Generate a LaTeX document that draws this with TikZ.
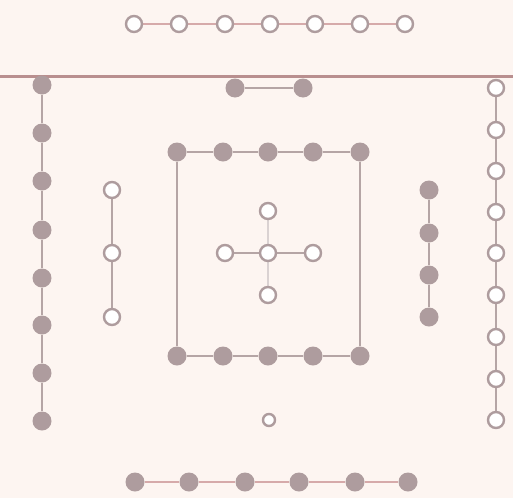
\documentclass[tikz,border=0pt]{standalone}
\usetikzlibrary{backgrounds}
\definecolor{bgc}{HTML}{FDF5F1}
\definecolor{edgec}{HTML}{B5A5A5}
\definecolor{pinkedge}{HTML}{D6AAAA}
\definecolor{nodec}{HTML}{AE9C9E}
\definecolor{rulec}{HTML}{B98F8F}
\tikzset{
  fillnode/.style={circle,fill=nodec,draw=none,minimum size=19pt,inner sep=0pt},
  opennode/.style={circle,fill=white,draw=nodec,line width=2.4pt,minimum size=16pt,inner sep=0pt},
  smallopen/.style={circle,fill=white,draw=nodec,line width=2.4pt,minimum size=12pt,inner sep=0pt},
  edge/.style={draw=edgec,line width=2.8pt},
  pedge/.style={draw=pinkedge,line width=2.4pt},
  faint/.style={draw=edgec!50,line width=1.2pt},
}
\begin{document}
\begin{tikzpicture}[x=1pt,y=-1pt]
\begin{scope}[on background layer]
\fill[bgc] (0,0) rectangle (513,498);
\end{scope}
\useasboundingbox (0,0) rectangle (513,498);
% separator line
\coordinate (rl) at (0,76);
\coordinate (rr) at (513,76);
\draw[rulec,line width=3pt] (rl) -- (rr);
% top open row
\foreach \x [count=\i] in {134,179,225,270,315,360,405}{
  \node[opennode] (t\i) at (\x,24) {};
}
\begin{scope}[on background layer]
\foreach \i [evaluate=\i as \j using int(\i+1)] in {1,...,6}{
  \draw[pedge] (t\i) -- (t\j);
}
\end{scope}
% short filled pair
\node[fillnode] (p1) at (235,88) {};
\node[fillnode] (p2) at (303,88) {};
\begin{scope}[on background layer]\draw[edge] (p1) -- (p2);\end{scope}
% left filled column
\foreach \y [count=\i] in {85,133,181,230,278,325,373,421}{
  \node[fillnode] (l\i) at (42,\y) {};
}
\begin{scope}[on background layer]
\foreach \i [evaluate=\i as \j using int(\i+1)] in {1,...,7}{
  \draw[edge] (l\i) -- (l\j);
}
\end{scope}
% second column open
\foreach \y [count=\i] in {190,253,317}{
  \node[opennode] (m\i) at (112,\y) {};
}
\begin{scope}[on background layer]
\draw[edge] (m1) -- (m2);
\draw[edge] (m2) -- (m3);
\end{scope}
% square
\foreach \x [count=\i] in {177,223,268,313,360}{
  \node[fillnode] (sa\i) at (\x,152) {};
  \node[fillnode] (sb\i) at (\x,356) {};
}
\begin{scope}[on background layer]
\foreach \i [evaluate=\i as \j using int(\i+1)] in {1,...,4}{
  \draw[edge] (sa\i) -- (sa\j);
  \draw[edge] (sb\i) -- (sb\j);
}
\draw[edge] (sa1) -- (sb1);
\draw[edge] (sa5) -- (sb5);
\end{scope}
% cross
\node[opennode] (cc) at (268,253) {};
\node[opennode] (cl) at (225,253) {};
\node[opennode] (cr) at (313,253) {};
\node[opennode] (ct) at (268,211) {};
\node[opennode] (cb) at (268,295) {};
\begin{scope}[on background layer]
\draw[edge] (cl) -- (cc);
\draw[edge] (cc) -- (cr);
\draw[faint] (ct) -- (cc);
\draw[faint] (cc) -- (cb);
\end{scope}
% right filled column
\foreach \y [count=\i] in {190,233,275,317}{
  \node[fillnode] (r\i) at (429,\y) {};
}
\begin{scope}[on background layer]
\foreach \i [evaluate=\i as \j using int(\i+1)] in {1,...,3}{
  \draw[edge] (r\i) -- (r\j);
}
\end{scope}
% far right open column
\foreach \y [count=\i] in {88,130,171,212,253,295,337,379,420}{
  \node[opennode] (f\i) at (496,\y) {};
}
\begin{scope}[on background layer]
\foreach \i [evaluate=\i as \j using int(\i+1)] in {1,...,8}{
  \draw[edge] (f\i) -- (f\j);
}
\end{scope}
% single open
\node[smallopen] (s) at (269,420) {};
% bottom filled row
\foreach \x [count=\i] in {135,189,245,299,355,408}{
  \node[fillnode] (b\i) at (\x,482) {};
}
\begin{scope}[on background layer]
\foreach \i [evaluate=\i as \j using int(\i+1)] in {1,...,5}{
  \draw[pedge] (b\i) -- (b\j);
}
\end{scope}
\end{tikzpicture}
\end{document}
